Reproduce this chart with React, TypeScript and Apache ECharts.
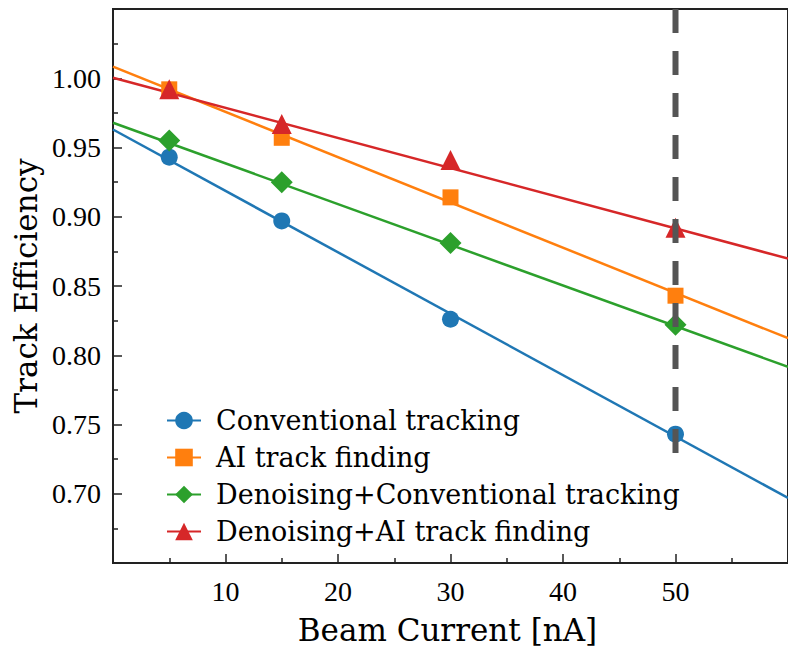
import React, { useEffect, useRef } from "react";
import * as echarts from "echarts";

// ---- data ----
const beamCurrents = [5, 15, 30, 50];
const seriesNames = [
  "Conventional tracking",
  "AI track finding",
  "Denoising+Conventional tracking",
  "Denoising+AI track finding",
];
const conventional = [0.943, 0.897, 0.826, 0.743];
const aiFinding = [0.992, 0.957, 0.914, 0.843];
const denoisingConv = [0.955, 0.925, 0.881, 0.822];
const denoisingAI = [0.992, 0.967, 0.941, 0.892];

// linear-fit lines, read at x = 0 and x = 60
const fitX = [0, 60];
const fitConventional = [0.963, 0.697];
const fitAI = [1.0084, 0.8123];
const fitDenoisingConv = [0.9679, 0.7916];
const fitDenoisingAI = [1.0004, 0.8698];

// vertical dashed reference line
const refLineX = 50;
const refLineY = [1.05, 0.729];

const xTicks = { min: 0, max: 60, interval: 10 };
const yTicks = { min: 0.65, max: 1.05, interval: 0.05 };

const colors = ["#1f77b4", "#ff7f0e", "#2ca02c", "#d62728"];
const symbols = ["circle", "rect", "diamond", "triangle"];
const symbolSizes = [17, 16, 22, 20];

const TICK_FONT = "Liberation Serif";
const TEXT_FONT = "DejaVu Serif";

export default function App() {
  const ref = useRef<HTMLDivElement>(null);

  useEffect(() => {
    document.body.style.margin = "0";
    if (!ref.current) return;
    const chart = echarts.init(ref.current, undefined, { renderer: "svg" });

    const values = [conventional, aiFinding, denoisingConv, denoisingAI];
    const fits = [fitConventional, fitAI, fitDenoisingConv, fitDenoisingAI];

    const fitSeries = fits.map((f, i) => ({
      name: "_fit" + i,
      type: "line",
      data: fitX.map((x, k) => [x, f[k]]),
      showSymbol: false,
      symbol: "none",
      lineStyle: { color: colors[i], width: 2.5 },
      z: 2,
      silent: true,
    }));

    const markerSeries = values.map((v, i) => ({
      name: seriesNames[i],
      type: "line",
      data: beamCurrents.map((x, k) => [x, v[k]]),
      symbol: symbols[i],
      symbolSize: symbolSizes[i],
      showSymbol: true,
      itemStyle: { color: colors[i], opacity: 1 },
      lineStyle: { color: colors[i], opacity: 0, width: 0 },
      z: 3,
    }));

    const dashSeries = {
      name: "_ref",
      type: "line",
      data: refLineY.map((y) => [refLineX, y]),
      symbol: "none",
      lineStyle: { color: "#555555", width: 6, type: [24, 18], cap: "butt" },
      z: 4,
      silent: true,
    };

    chart.setOption({
      animation: false,
      grid: {
        left: 113,
        top: 9,
        right: -9,
        bottom: 89,
        show: true,
        borderColor: "#222",
        borderWidth: 2,
        backgroundColor: "transparent",
      },
      legend: {
        data: seriesNames,
        orient: "vertical",
        left: 161,
        top: 402,
        itemWidth: 34,
        itemHeight: 22,
        itemGap: 10,
        selectedMode: false,
        lineStyle: { width: 2, opacity: 1 },
        textStyle: {
          fontFamily: TEXT_FONT,
          fontSize: 27,
          color: "#000",
          lineHeight: 22,
          padding: [0, 0, 0, 10],
        },
      },
      xAxis: {
        type: "value",
        min: xTicks.min,
        max: xTicks.max,
        interval: xTicks.interval,
        name: "Beam Current [nA]",
        nameLocation: "middle",
        nameGap: 51,
        nameTextStyle: {
          fontFamily: TEXT_FONT,
          fontSize: 31,
          color: "#000",
          padding: [0, 6, 0, 0],
        },
        axisLine: { show: true, lineStyle: { color: "#222", width: 2 } },
        axisTick: { show: true, inside: true, length: 9, lineStyle: { color: "#222", width: 1.5 } },
        minorTick: { show: true, splitNumber: 2, length: 5, lineStyle: { color: "#222", width: 1.5 } },
        splitLine: { show: false },
        minorSplitLine: { show: false },
        axisLabel: {
          showMinLabel: false,
          showMaxLabel: false,
          fontFamily: TICK_FONT,
          fontSize: 28,
          color: "#000",
          margin: 14,
        },
      },
      yAxis: {
        type: "value",
        min: yTicks.min,
        max: yTicks.max,
        interval: yTicks.interval,
        name: "Track Efficiency",
        nameLocation: "middle",
        nameGap: 70,
        nameTextStyle: { fontFamily: TEXT_FONT, fontSize: 31, color: "#000" },
        axisLine: { show: true, lineStyle: { color: "#222", width: 2 } },
        axisTick: { show: true, inside: true, length: 9, lineStyle: { color: "#222", width: 1.5 } },
        minorTick: { show: true, splitNumber: 2, length: 5, lineStyle: { color: "#222", width: 1.5 } },
        splitLine: { show: false },
        minorSplitLine: { show: false },
        axisLabel: {
          showMinLabel: false,
          showMaxLabel: false,
          fontFamily: TICK_FONT,
          fontSize: 28,
          color: "#000",
          margin: 12,
          formatter: (v: number) => v.toFixed(2),
        },
      },
      series: [...fitSeries, ...markerSeries, dashSeries],
    });

    return () => chart.dispose();
  }, []);

  return <div ref={ref} style={{ width: 788, height: 652 }} />;
}
